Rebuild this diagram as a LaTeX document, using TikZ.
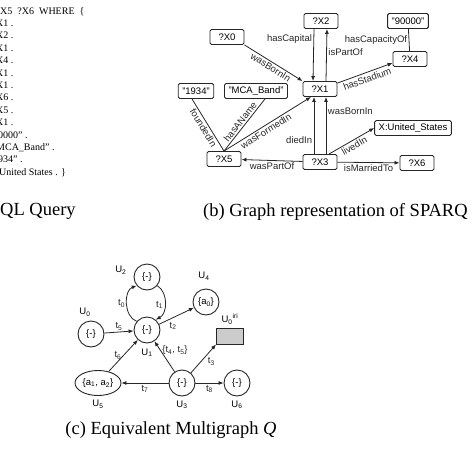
\documentclass[tikz,border=0pt]{standalone}
\usepackage{fontspec}
\setmainfont{Liberation Serif}
\setsansfont{Liberation Sans}
\usetikzlibrary{arrows.meta,positioning,shapes.geometric}

\begin{document}
\begin{tikzpicture}[
  x=1pt, y=-1pt,
  font=\sffamily\fontsize{9.5}{11}\selectfont,
  % Node styles
  var/.style={rectangle, rounded corners=1.5pt, draw=black!85, line width=0.9pt, inner xsep=4pt, inner ysep=2pt, minimum width=34pt, minimum height=15pt},
  vertex/.style={circle, draw=black!85, line width=0.9pt, minimum size=26pt, inner sep=0pt},
  ulabel/.style={inner sep=1pt},
  elabel/.style={inner sep=1.5pt},
  caption/.style={font=\rmfamily\fontsize{18.5}{20}\selectfont, inner sep=0pt},
  arr/.style={-{Latex[length=5pt,width=4pt]}, line width=0.8pt, color=black!85},
  link/.style={line width=0.8pt, color=black!85}
]
  \useasboundingbox (0,0) rectangle (474,474);

  % ============================================
  % (a) SPARQL query text (cut at the left border)
  % ============================================
  \node[anchor=north west, align=left, inner sep=0pt, font=\rmfamily\fontsize{10}{12.4}\selectfont] (query) at (-4,7)
    {\hspace*{4pt}X5 ~?X6 ~WHERE ~\{\\
     X1 .\\ X2 .\\ X1 .\\ X4 .\\ X1 .\\ X1 .\\ X6 .\\ X5 .\\ X1 .\\
     \hspace*{2pt}0000" .\\ MCA\_Band" .\\ \hspace*{2pt}934" .\\ \hspace*{3pt}United States . \}};
  \node[caption, anchor=west] (capa) at (0,211) {QL Query};

  % ============================================
  % (b) Graph representation
  % ============================================
  \node[var] (X0) at (227,37) {?X0};
  \node[var] (X2) at (321,21) {?X2};
  \node[var] (s90000) at (408,21) {"90000"};
  \node[var] (X4) at (410,59) {?X4};
  \node[var] (X1) at (320,89) {?X1};
  \node[var] (s1934) at (196,91) {"1934"};
  \node[var] (MCA) at (256,91) {"MCA\_Band"};
  \node[var] (US) at (413,128) {X:United\_States};
  \node[var] (X5) at (224,159) {?X5};
  \node[var] (X3) at (320,162) {?X3};
  \node[var] (X6) at (417,163) {?X6};

  \draw[arr] (X0.south east) -- node[elabel, sloped, below] {wasBornIn} (X1.north west);
  \draw[arr] ([xshift=-7pt]X2.south) -- node[elabel, pos=0.2, left] {hasCapital} ([xshift=-7pt]X1.north);
  \draw[arr] ([xshift=6pt]X1.north) -- node[elabel, pos=0.55, right] {isPartOf} ([xshift=6pt]X2.south);
  \draw[link] (X4) -- node[elabel, left] {hasCapacityOf} (s90000);
  \draw[arr] ([yshift=-2pt]X1.north east) -- node[elabel, sloped, below=1pt] {hasStadium} ([yshift=-4pt]X4.west);
  \draw[link] (X5.north) -- node[elabel, sloped, below] {foundedIn} ([xshift=-4pt]s1934.south);
  \draw[link] (X5.north) -- node[elabel, sloped, above] {hasAName} ([xshift=9pt]MCA.south);
  \draw[arr] (X5.north) -- node[elabel, sloped, below, pos=0.45] {wasFormedIn} ([xshift=-9pt]X1.south);
  \draw[arr] ([xshift=-6pt]X3.north) -- node[elabel, pos=0.25, left] {diedIn} ([xshift=-6pt]X1.south);
  \draw[arr] ([xshift=6pt]X3.north) -- node[elabel, pos=0.75, right] {wasBornIn} ([xshift=6pt]X1.south);
  \draw[arr] ([xshift=9pt]X3.north) -- node[elabel, sloped, below] {livedIn} (US.west);
  \draw[arr] (X3) -- node[elabel, below] {wasPartOf} (X5);
  \draw[arr] (X3) -- node[elabel, below] {isMarriedTo} (X6);

  \node[caption, anchor=west] (capb) at (203,212) {(b) Graph representation of SPARQ};

  % ============================================
  % (c) Equivalent multigraph
  % ============================================
  \node[vertex] (u2) at (147,277) {\{-\}};
  \node[vertex] (u4) at (206,302) {\{a\textsubscript{0}\}};
  \node[vertex] (u0) at (91,334) {\{-\}};
  \node[vertex] (u1) at (147,330) {\{-\}};
  \node[rectangle, draw=black!85, line width=0.9pt, fill=gray!40, minimum width=27pt, minimum height=16pt] (iri) at (230,336) {};
  \node[ellipse, draw=black!85, line width=0.9pt, minimum width=46pt, minimum height=25pt, inner sep=0pt] (u5) at (98,383) {\{a\textsubscript{1}, a\textsubscript{2}\}};
  \node[vertex] (u3) at (182,383) {\{-\}};
  \node[vertex] (u6) at (237,383) {\{-\}};

  \node[ulabel, left=6pt of u2, yshift=7pt] (lu2) {U\textsubscript{2}};
  \node[ulabel, above=7pt of u4, xshift=-2pt] (lu4) {U\textsubscript{4}};
  \node[ulabel, above=3pt of u0, xshift=-6pt] (lu0) {U\textsubscript{0}};
  \node[ulabel, below=4pt of u1] (lu1) {U\textsubscript{1}};
  \node[ulabel, above=2pt of iri] (lui) {U\textsubscript{0}\textsuperscript{iri}};
  \node[ulabel, below=3pt of u5] (lu5) {U\textsubscript{5}};
  \node[ulabel, below=3pt of u3] (lu3) {U\textsubscript{3}};
  \node[ulabel, below=3pt of u6] (lu6) {U\textsubscript{6}};

  \draw[arr] (u1.140) to[bend left=70] node[elabel, left] {t\textsubscript{0}} (u2.220);
  \draw[arr] (u2.-40) to[bend left=60] node[elabel, left, pos=0.55] {t\textsubscript{1}} (u1.50);
  \draw[arr] (u0) -- node[elabel, above] {t\textsubscript{5}} (u1);
  \draw[arr] (u1) -- node[elabel, pos=0.25, below right] {t\textsubscript{2}} (u4);
  \draw[arr] (u3) -- node[elabel, pos=0.7, right] {\{t\textsubscript{4}, t\textsubscript{5}\}} (u1);
  \draw[arr] (u5) -- node[elabel, left] {t\textsubscript{6}} (u1);
  \draw[arr] (u3) -- node[elabel, below] {t\textsubscript{7}} (u5);
  \draw[arr] (u3) -- node[elabel, pos=0.6, below right] {t\textsubscript{3}} (iri.south west);
  \draw[arr] (u3) -- node[elabel, below] {t\textsubscript{8}} (u6);

  \node[caption] (capc) at (171,430) {(c) Equivalent Multigraph \textit{Q}};

\end{tikzpicture}
\end{document}
